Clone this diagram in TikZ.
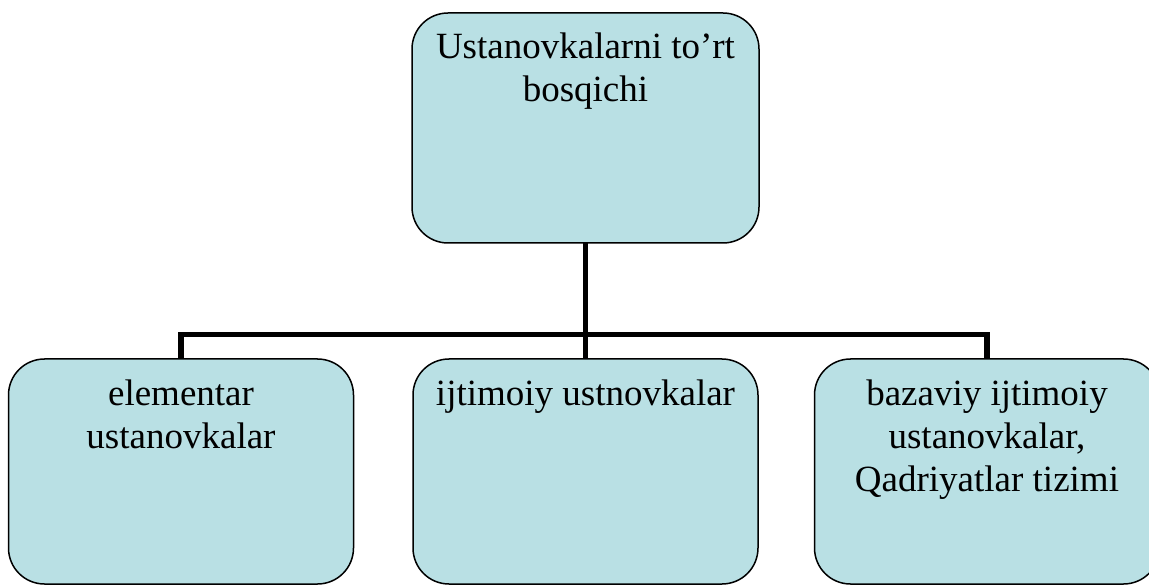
\documentclass[tikz,border=0pt]{standalone}
\usepackage{fontspec}
\setmainfont{Liberation Serif}
\definecolor{boxfill}{RGB}{185,224,228}
\newcommand{\boxtext}[2]{\parbox[c][#1][t]{330pt}{\centering\fontsize{37}{43}\selectfont\rule{0pt}{46pt}#2}}
\begin{document}
\begin{tikzpicture}[x=1pt,y=-1pt,
  stagebox/.style={draw=black, line width=1.5pt, fill=boxfill, rounded corners=36pt,
    inner sep=0pt, outer sep=0pt, minimum width=345pt},
  conn/.style={draw=black, line width=5.5pt, line join=miter}]
\useasboundingbox (0,0) rectangle (1149,585);
\node[stagebox, minimum width=347pt, minimum height=230pt] (top) at (585.5,128)
  {\boxtext{230pt}{Ustanovkalarni to’rt\\bosqichi}};
\node[stagebox, minimum height=225pt] (left) at (181,471.5)
  {\boxtext{225pt}{elementar\\ustanovkalar}};
\node[stagebox, minimum height=225pt] (mid) at (585.5,471.5)
  {\boxtext{225pt}{ijtimoiy ustnovkalar}};
\node[stagebox, minimum height=225pt] (right) at (987,471.5)
  {\boxtext{225pt}{bazaviy ijtimoiy\\ustanovkalar,\\Qadriyatlar tizimi}};
\coordinate (j) at (585.5,334.5);
\draw[conn] (top.south) -- (j) -- (mid.north);
\draw[conn] (left.north) |- (j);
\draw[conn] (right.north) |- (j);
\end{tikzpicture}
\end{document}
